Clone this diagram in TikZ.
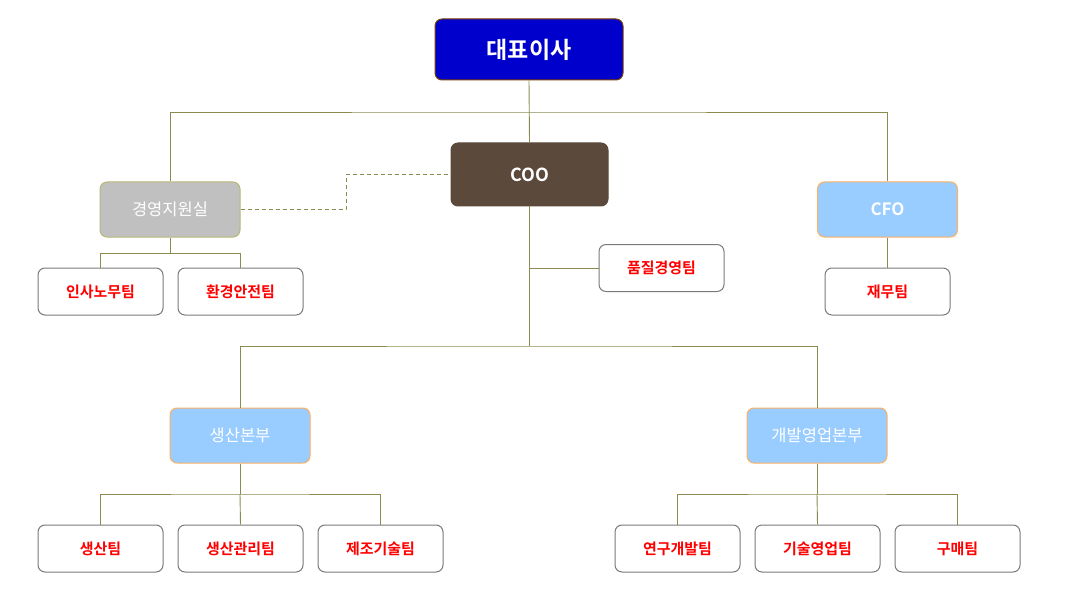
\documentclass[tikz,border=0pt]{standalone}
\usepackage{fontspec}
\newfontfamily\kr{Noto Sans CJK KR}
\newfontfamily\krb{Noto Sans CJK KR Bold}
\setmainfont{Noto Sans CJK KR}
\definecolor{linec}{HTML}{8B8B50}
\definecolor{ceoblue}{HTML}{0000CC}
\definecolor{ceoedge}{HTML}{7F3F00}
\definecolor{coobrown}{HTML}{5B4A3C}
\definecolor{graybox}{HTML}{C0C0C0}
\definecolor{grayedge}{HTML}{B8B878}
\definecolor{lblue}{HTML}{99CCFF}
\definecolor{orangeedge}{HTML}{FFB060}
\definecolor{teamedge}{HTML}{7A7A7A}
\begin{document}
\begin{tikzpicture}[x=1pt,y=-1pt,
  base/.style={rounded corners=7pt, inner sep=0pt, align=center, line width=1pt},
  ceo/.style={base, fill=ceoblue, draw=ceoedge, minimum width=188pt, minimum height=61pt, text=white, font=\krb\fontsize{23}{26}\selectfont},
  coo/.style={base, fill=coobrown, draw=coobrown, minimum width=157pt, minimum height=63pt, text=white, font=\krb\fontsize{18}{22}\selectfont},
  staff/.style={base, fill=graybox, draw=grayedge, minimum width=140pt, minimum height=55pt, text=white, font=\kr\fontsize{16.5}{20}\selectfont},
  div/.style={base, fill=lblue, draw=orangeedge, minimum width=140pt, minimum height=55pt, text=white, font=\kr\fontsize{16.5}{20}\selectfont},
  divb/.style={div, font=\krb\fontsize{17}{20}\selectfont},
  team/.style={base, fill=white, draw=teamedge, minimum width=125pt, minimum height=47pt, text=red, font=\krb\fontsize{15}{18}\selectfont},
  conn/.style={draw=linec, line width=0.9pt},
  dconn/.style={draw=linec, line width=0.9pt, dash pattern=on 4pt off 3pt}]
\useasboundingbox (0,0) rectangle (1068,604);
\node[ceo] (ceo) at (529,49.5) {대표이사};
\node[coo] (coo) at (529.5,174.5) {COO};
\node[staff] (staff) at (170,209.5) {경영지원실};
\node[divb] (cfo) at (887.5,209.5) {CFO};
\node[team] (t1) at (100.5,291.5) {인사노무팀};
\node[team] (t2) at (240.5,291.5) {환경안전팀};
\node[team] (qm) at (661.5,268) {품질경영팀};
\node[team] (fin) at (887.5,291.5) {재무팀};
\node[div] (prod) at (240,435.5) {생산본부};
\node[div] (dev) at (817,435.5) {개발영업본부};
\node[team] (p1) at (100.5,548.5) {생산팀};
\node[team] (p2) at (240.5,548.5) {생산관리팀};
\node[team] (p3) at (380.5,548.5) {제조기술팀};
\node[team] (d1) at (677.5,548.5) {연구개발팀};
\node[team] (d2) at (817.5,548.5) {기술영업팀};
\node[team] (d3) at (957.5,548.5) {구매팀};
% top level
\coordinate (hb) at (529,112);
\draw[conn] (ceo.south) -- (coo.north);
\draw[conn] (staff.north) |- (hb) -| (cfo.north);
% dashed staff link
\draw[dconn] (staff.east) -- (346,209.5) |- (coo.west);
% staff teams
\draw[conn] (staff.south) -- (170,253) -| (t1.north);
\draw[conn] (170,253) -| (t2.north);
% cfo
\draw[conn] (cfo.south) -- (fin.north);
% coo down
\coordinate (cb) at (529.5,346);
\draw[conn] (coo.south) -- (cb);
\draw[conn] (529.5,268) -- (qm.west);
\draw[conn] (prod.north) |- (cb) -| (dev.north);
% production
\coordinate (pb) at (240,494);
\draw[conn] (prod.south) -- (pb);
\draw[conn] (p1.north) |- (pb) -| (p3.north);
\draw[conn] (pb) -- (p2.north);
% dev
\coordinate (db) at (817,494);
\draw[conn] (dev.south) -- (db);
\draw[conn] (d1.north) |- (db) -| (d3.north);
\draw[conn] (db) -- (d2.north);
\end{tikzpicture}
\end{document}
